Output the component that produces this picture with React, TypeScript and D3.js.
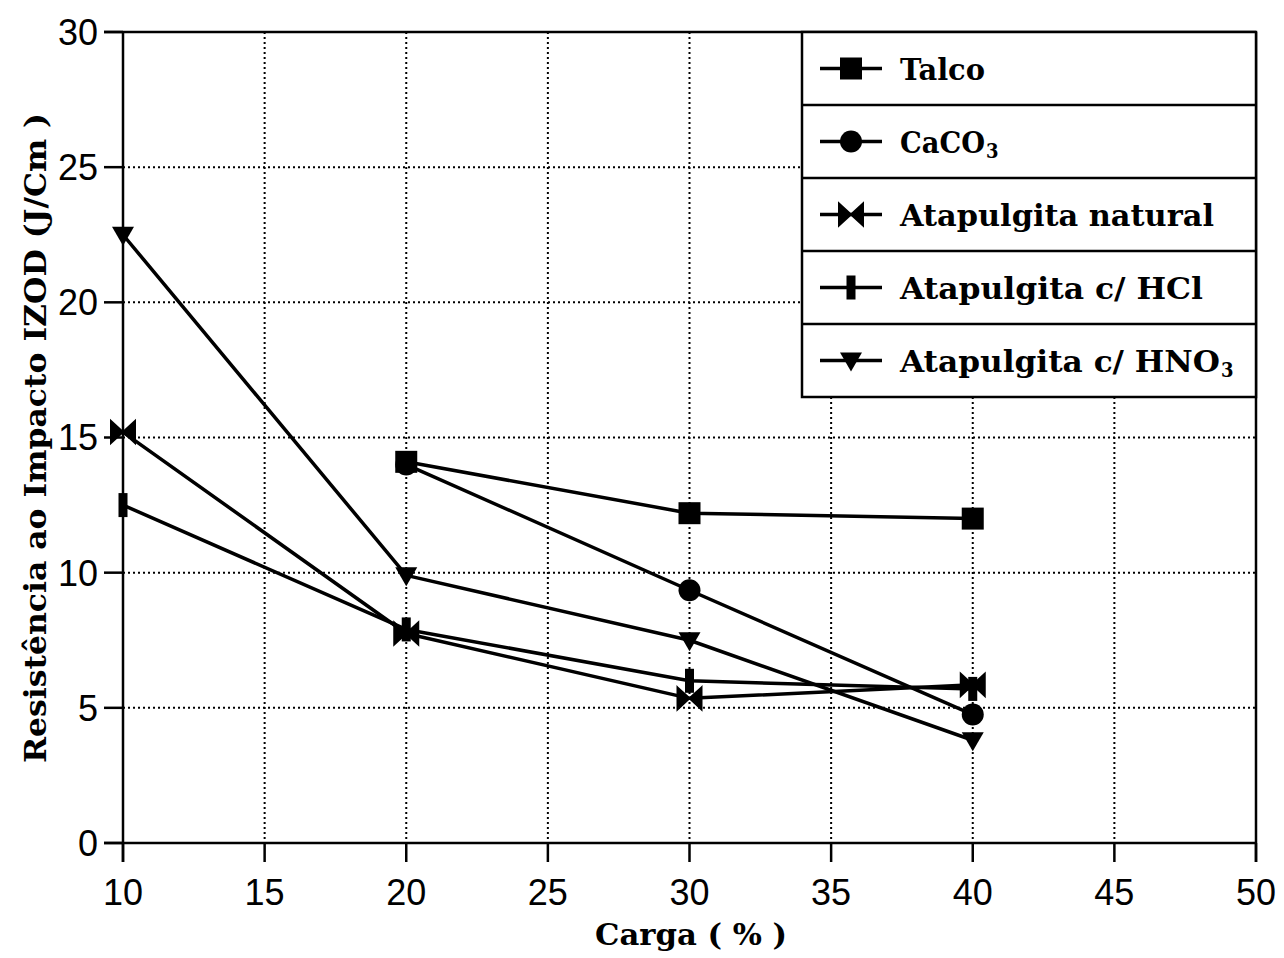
import React from "react";
import * as d3 from "d3";

// Filler content (%)
const cargaTalco = [20, 30, 40];
const talco = [14.1, 12.2, 12.0];

const cargaCaCO3 = [20, 30, 40];
const caco3 = [14.0, 9.35, 4.75];

const cargaNatural = [10, 20, 30, 40];
const atapNatural = [15.2, 7.75, 5.35, 5.85];

const cargaHCl = [10, 20, 30, 40];
const atapHCl = [12.5, 7.9, 6.0, 5.7];

const cargaHNO3 = [10, 20, 30, 40];
const atapHNO3 = [22.5, 9.9, 7.5, 3.8];

const xTicks = [10, 15, 20, 25, 30, 35, 40, 45, 50];
const yTicks = [0, 5, 10, 15, 20, 25, 30];

type MarkerKind = "square" | "circle" | "bowtie" | "bar" | "triangle";

const seriesList: { name: string; sub?: string; width: number; xs: number[]; ys: number[]; marker: MarkerKind }[] = [
  { name: "Talco", width: 85, xs: cargaTalco, ys: talco, marker: "square" },
  { name: "CaCO", sub: "3", width: 97, xs: cargaCaCO3, ys: caco3, marker: "circle" },
  { name: "Atapulgita natural", width: 314, xs: cargaNatural, ys: atapNatural, marker: "bowtie" },
  { name: "Atapulgita c/ HCl", width: 303, xs: cargaHCl, ys: atapHCl, marker: "bar" },
  { name: "Atapulgita c/ HNO", sub: "3", width: 332, xs: cargaHNO3, ys: atapHNO3, marker: "triangle" },
];

const W = 1284;
const H = 958;
const left = 123;
const right = 1256;
const top = 32;
const bottom = 843;

const x = d3.scaleLinear().domain([10, 50]).range([left, right]);
const y = d3.scaleLinear().domain([0, 30]).range([bottom, top]);

const serif = "'DejaVu Serif Condensed', 'DejaVu Serif', serif";
const sans = "'Liberation Sans', Arial, sans-serif";

function Marker({ kind, cx, cy }: { kind: MarkerKind; cx: number; cy: number }) {
  switch (kind) {
    case "square":
      return <rect x={cx - 11} y={cy - 11} width={22} height={22} fill="#000" />;
    case "circle":
      return <circle cx={cx} cy={cy} r={11} fill="#000" />;
    case "bowtie":
      return (
        <path
          d={`M${cx - 12},${cy - 11}L${cx},${cy}L${cx - 12},${cy + 11}Z M${cx + 12},${cy - 11}L${cx},${cy}L${cx + 12},${cy + 11}Z`}
          fill="#000"
          stroke="#000"
          strokeWidth={2}
        />
      );
    case "bar":
      return <rect x={cx - 4.5} y={cy - 12} width={9} height={24} fill="#000" />;
    case "triangle":
      return (
        <path d={`M${cx - 11},${cy - 8}L${cx + 11},${cy - 8}L${cx},${cy + 11}Z`} fill="#000" />
      );
  }
}

export default function App() {
  const line = d3
    .line<[number, number]>()
    .x((d) => x(d[0]))
    .y((d) => y(d[1]));

  const legendLeft = 802;
  const rowH = 73;

  return (
    <svg
      width={W}
      height={H}
      viewBox={`0 0 ${W} ${H}`}
      style={{ position: "absolute", left: 0, top: 0, background: "#fff" }}
    >
      <rect x={0} y={0} width={W} height={H} fill="#fff" />

      {/* dotted grid */}
      <g stroke="#000" strokeWidth={2} strokeDasharray="2,3">
        {xTicks.slice(1, -1).map((t) => (
          <line key={"gx" + t} x1={x(t)} x2={x(t)} y1={top} y2={bottom} />
        ))}
        {yTicks.slice(1, -1).map((t) => (
          <line key={"gy" + t} x1={left} x2={right} y1={y(t)} y2={y(t)} />
        ))}
      </g>

      {/* frame and ticks */}
      <g stroke="#000" strokeWidth={2.5} fill="none">
        <line x1={left} x2={left} y1={top} y2={bottom + 19} />
        <line x1={right} x2={right} y1={top} y2={bottom + 19} />
        <line x1={left - 19} x2={right} y1={bottom} y2={bottom} />
        <line x1={left - 19} x2={right} y1={top} y2={top} />
        {xTicks.map((t) => (
          <line key={"tx" + t} x1={x(t)} x2={x(t)} y1={bottom} y2={bottom + 19} />
        ))}
        {yTicks.map((t) => (
          <line key={"ty" + t} x1={left - 19} x2={left} y1={y(t)} y2={y(t)} />
        ))}
      </g>

      {/* tick labels */}
      <g fontFamily={sans} fontSize={36} fill="#000">
        {xTicks.map((t) => (
          <text key={"lx" + t} x={x(t)} y={905} textAnchor="middle">
            {t}
          </text>
        ))}
        {yTicks.map((t) => (
          <text key={"ly" + t} x={98} y={y(t)} dy="0.36em" textAnchor="end">
            {t}
          </text>
        ))}
      </g>

      {/* series */}
      {seriesList.map((s) => {
        const pts = s.xs.map((v, i) => [v, s.ys[i]] as [number, number]);
        return (
          <g key={s.name}>
            <path d={line(pts) ?? ""} fill="none" stroke="#000" strokeWidth={3.5} strokeLinejoin="round" />
            {pts.map((p, i) => (
              <Marker key={i} kind={s.marker} cx={x(p[0])} cy={y(p[1])} />
            ))}
          </g>
        );
      })}

      {/* legend */}
      <g>
        <rect
          x={legendLeft}
          y={top}
          width={right - legendLeft}
          height={rowH * 5}
          fill="#fff"
          stroke="#000"
          strokeWidth={2.5}
        />
        {seriesList.map((s, i) => {
          const cy = top + rowH * i + rowH / 2;
          const mainWidth = s.sub ? s.width - 12 : s.width;
          return (
            <g key={"lg" + s.name}>
              {i > 0 && (
                <line x1={legendLeft} x2={right} y1={top + rowH * i} y2={top + rowH * i} stroke="#000" strokeWidth={2.5} />
              )}
              <line x1={820} x2={882} y1={cy} y2={cy} stroke="#000" strokeWidth={3.5} />
              <Marker kind={s.marker} cx={851} cy={cy} />
              <text
                x={900}
                y={cy + 11}
                fontFamily={serif}
                fontWeight="bold"
                fontSize={30}
                fill="#000"
                textLength={mainWidth}
                lengthAdjust="spacingAndGlyphs"
              >
                {s.name}
              </text>
              {s.sub && (
                <text
                  x={900 + mainWidth + 1}
                  y={cy + 16}
                  fontFamily={serif}
                  fontWeight="bold"
                  fontSize={20}
                  fill="#000"
                >
                  {s.sub}
                </text>
              )}
            </g>
          );
        })}
      </g>

      {/* axis titles */}
      <text
        x={691}
        y={945}
        textAnchor="middle"
        fontFamily={serif}
        fontWeight="bold"
        fontSize={30}
        fill="#000"
        textLength={192}
        lengthAdjust="spacingAndGlyphs"
      >
        Carga ( % )
      </text>
      <text
        transform="translate(46,438) rotate(-90)"
        textAnchor="middle"
        fontFamily={serif}
        fontWeight="bold"
        fontSize={30}
        fill="#000"
        textLength={650}
        lengthAdjust="spacingAndGlyphs"
      >
        Resistência ao Impacto IZOD (J/Cm )
      </text>
    </svg>
  );
}
